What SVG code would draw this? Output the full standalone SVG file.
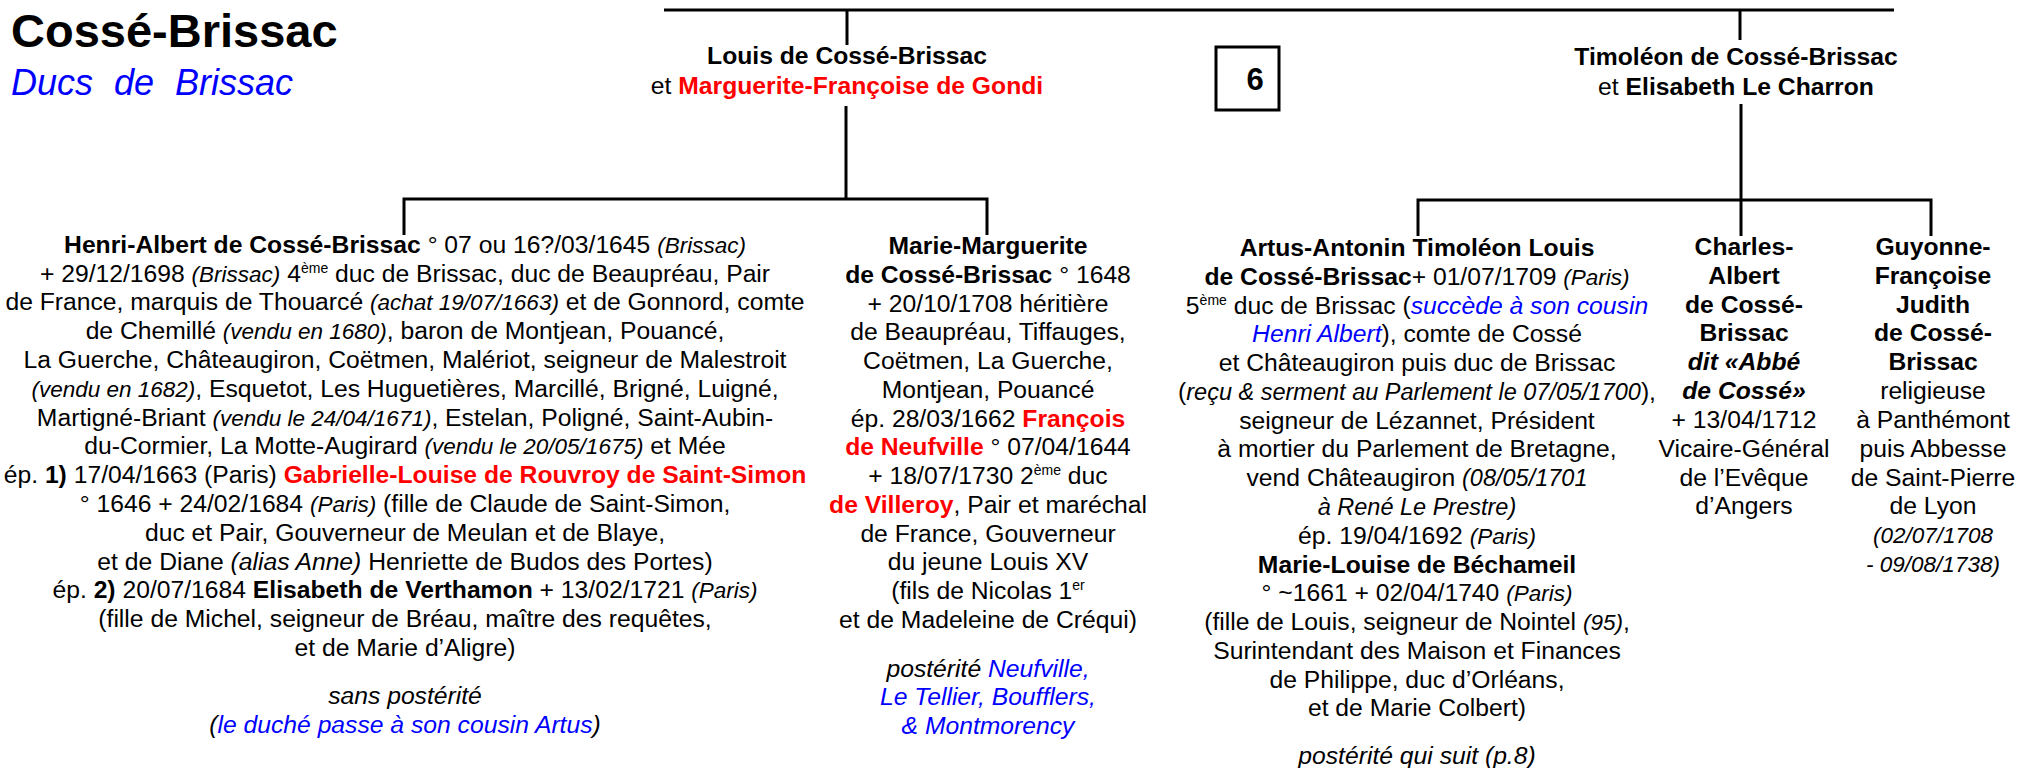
<svg xmlns="http://www.w3.org/2000/svg" width="2018" height="768" viewBox="0 0 2018 768">
<style>
.t{font-family:"Liberation Sans",Arial,sans-serif;font-size:24.7px;fill:#000;text-anchor:middle}
.b{font-weight:bold}
.i{font-style:italic}
.s{font-size:22.5px}
.m{font-size:23.5px}
.r{fill:#ff0000}
.u{fill:#0000ff}
.ln{stroke:#000;stroke-width:3;fill:none}
</style>
<rect width="2018" height="768" fill="#fff"/>
<g id="title">
<text x="11" y="47" style="font-family:'Liberation Sans',Arial,sans-serif;font-size:47px;font-weight:bold">Cossé-Brissac</text>
<text x="11" y="95" style="font-family:'Liberation Sans',Arial,sans-serif;font-size:36px;font-style:italic;fill:#0000ff;word-spacing:11px">Ducs de Brissac</text>
</g>
<g id="connectors" class="ln">
<path d="M664 10H1894"/>
<path d="M847 10V45"/>
<path d="M846 106V199"/>
<path d="M404 235V199H987V235"/>
<path d="M1740 10V40"/>
<path d="M1741 104V236"/>
<path d="M1418 236V200H1931V236"/>
</g>
<g id="box6">
<rect x="1216" y="47" width="63" height="63" fill="#fff" stroke="#000" stroke-width="3"/>
<text x="1255" y="90" style="font-family:'Liberation Sans',Arial,sans-serif;font-size:31px;font-weight:bold;text-anchor:middle">6</text>
</g>
<g id="louis">
<text class="t b" x="847" y="64">Louis de Cossé-Brissac</text>
<text class="t" x="847" y="94">et <tspan class="b r">Marguerite-Françoise de Gondi</tspan></text>
</g>
<g id="timoleon">
<text class="t b" x="1736" y="65">Timoléon de Cossé-Brissac</text>
<text class="t" x="1736" y="95">et <tspan class="b">Elisabeth Le Charron</tspan></text>
</g>
<g id="henri">
<text class="t" x="405" y="253"><tspan class="b">Henri-Albert de Cossé-Brissac</tspan> ° 07 ou 16?/03/1645 <tspan class="i s">(Brissac)</tspan></text>
<text class="t" x="405" y="282">+ 29/12/1698 <tspan class="i s">(Brissac)</tspan> 4<tspan font-size="14" dy="-9">ème</tspan><tspan dy="9"> duc de Brissac, duc de Beaupréau, Pair</tspan></text>
<text class="t" x="405" y="310">de France, marquis de Thouarcé <tspan class="i s">(achat 19/07/1663)</tspan> et de Gonnord, comte</text>
<text class="t" x="405" y="339">de Chemillé <tspan class="i s">(vendu en 1680)</tspan>, baron de Montjean, Pouancé,</text>
<text class="t" x="405" y="368">La Guerche, Châteaugiron, Coëtmen, Malériot, seigneur de Malestroit</text>
<text class="t" x="405" y="397"><tspan class="i s">(vendu en 1682)</tspan>, Esquetot, Les Huguetières, Marcillé, Brigné, Luigné,</text>
<text class="t" x="405" y="426">Martigné-Briant <tspan class="i s">(vendu le 24/04/1671)</tspan>, Estelan, Poligné, Saint-Aubin-</text>
<text class="t" x="405" y="454">du-Cormier, La Motte-Augirard <tspan class="i s">(vendu le 20/05/1675)</tspan> et Mée</text>
<text class="t" x="405" y="483">ép. <tspan class="b">1)</tspan> 17/04/1663 (Paris) <tspan class="b r">Gabrielle-Louise de Rouvroy de Saint-Simon</tspan></text>
<text class="t" x="405" y="512">° 1646 + 24/02/1684 <tspan class="i s">(Paris)</tspan> (fille de Claude de Saint-Simon,</text>
<text class="t" x="405" y="541">duc et Pair, Gouverneur de Meulan et de Blaye,</text>
<text class="t" x="405" y="570">et de Diane <tspan class="i">(alias Anne)</tspan> Henriette de Budos des Portes)</text>
<text class="t" x="405" y="598">ép. <tspan class="b">2)</tspan> 20/07/1684 <tspan class="b">Elisabeth de Verthamon</tspan> + 13/02/1721 <tspan class="i s">(Paris)</tspan></text>
<text class="t" x="405" y="627">(fille de Michel, seigneur de Bréau, maître des requêtes,</text>
<text class="t" x="405" y="656">et de Marie d’Aligre)</text>
<text class="t i" x="405" y="704">sans postérité</text>
<text class="t i" x="405" y="733">(<tspan class="u">le duché passe à son cousin Artus</tspan>)</text>
</g>
<g id="marie-marguerite">
<text class="t b" x="988" y="254">Marie-Marguerite</text>
<text class="t" x="988" y="283"><tspan class="b">de Cossé-Brissac</tspan> ° 1648</text>
<text class="t" x="988" y="312">+ 20/10/1708 héritière</text>
<text class="t" x="988" y="340">de Beaupréau, Tiffauges,</text>
<text class="t" x="988" y="369">Coëtmen, La Guerche,</text>
<text class="t" x="988" y="398">Montjean, Pouancé</text>
<text class="t" x="988" y="427">ép. 28/03/1662 <tspan class="b r">François</tspan></text>
<text class="t" x="988" y="455"><tspan class="b r">de Neufville</tspan> ° 07/04/1644</text>
<text class="t" x="988" y="484">+ 18/07/1730 2<tspan font-size="14" dy="-9">ème</tspan><tspan dy="9"> duc</tspan></text>
<text class="t" x="988" y="513"><tspan class="b r">de Villeroy</tspan>, Pair et maréchal</text>
<text class="t" x="988" y="542">de France, Gouverneur</text>
<text class="t" x="988" y="570">du jeune Louis XV</text>
<text class="t" x="988" y="599">(fils de Nicolas 1<tspan font-size="14" dy="-9">er</tspan></text>
<text class="t" x="988" y="628">et de Madeleine de Créqui)</text>
<text class="t i" x="988" y="677">postérité <tspan class="u">Neufville,</tspan></text>
<text class="t i u" x="988" y="705">Le Tellier, Boufflers,</text>
<text class="t i u" x="988" y="734">&amp; Montmorency</text>
</g>
<g id="artus">
<text class="t b" x="1417" y="256">Artus-Antonin Timoléon Louis</text>
<text class="t" x="1417" y="285"><tspan class="b">de Cossé-Brissac</tspan>+ 01/07/1709 <tspan class="i s">(Paris)</tspan></text>
<text class="t" x="1417" y="314">5<tspan font-size="14" dy="-9">ème</tspan><tspan dy="9"> duc de Brissac (</tspan><tspan class="i u">succède à son cousin</tspan></text>
<text class="t" x="1417" y="342"><tspan class="i u">Henri Albert</tspan>), comte de Cossé</text>
<text class="t" x="1417" y="371">et Châteaugiron puis duc de Brissac</text>
<text class="t" x="1417" y="400">(<tspan class="i m">reçu &amp; serment au Parlement le 07/05/1700</tspan>),</text>
<text class="t" x="1417" y="429">seigneur de Lézannet, Président</text>
<text class="t" x="1417" y="457">à mortier du Parlement de Bretagne,</text>
<text class="t" x="1417" y="486">vend Châteaugiron <tspan class="i m">(08/05/1701</tspan></text>
<text class="t i m" x="1417" y="515">à René Le Prestre)</text>
<text class="t" x="1417" y="544">ép. 19/04/1692 <tspan class="i s">(Paris)</tspan></text>
<text class="t b" x="1417" y="573">Marie-Louise de Béchameil</text>
<text class="t" x="1417" y="601">° ~1661 + 02/04/1740 <tspan class="i s">(Paris)</tspan></text>
<text class="t" x="1417" y="630">(fille de Louis, seigneur de Nointel <tspan class="i s">(95)</tspan>,</text>
<text class="t" x="1417" y="659">Surintendant des Maison et Finances</text>
<text class="t" x="1417" y="688">de Philippe, duc d’Orléans,</text>
<text class="t" x="1417" y="716">et de Marie Colbert)</text>
<text class="t i" x="1417" y="764">postérité qui suit (p.8)</text>
</g>
<g id="charles-albert">
<text class="t b" x="1744" y="255">Charles-</text>
<text class="t b" x="1744" y="284">Albert</text>
<text class="t b" x="1744" y="313">de Cossé-</text>
<text class="t b" x="1744" y="341">Brissac</text>
<text class="t b i" x="1744" y="370">dit «Abbé</text>
<text class="t b i" x="1744" y="399">de Cossé»</text>
<text class="t" x="1744" y="428">+ 13/04/1712</text>
<text class="t" x="1744" y="457">Vicaire-Général</text>
<text class="t" x="1744" y="486">de l’Evêque</text>
<text class="t" x="1744" y="514">d’Angers</text>
</g>
<g id="guyonne">
<text class="t b" x="1933" y="255">Guyonne-</text>
<text class="t b" x="1933" y="284">Françoise</text>
<text class="t b" x="1933" y="313">Judith</text>
<text class="t b" x="1933" y="341">de Cossé-</text>
<text class="t b" x="1933" y="370">Brissac</text>
<text class="t" x="1933" y="399">religieuse</text>
<text class="t" x="1933" y="428">à Panthémont</text>
<text class="t" x="1933" y="457">puis Abbesse</text>
<text class="t" x="1933" y="486">de Saint-Pierre</text>
<text class="t" x="1933" y="514">de Lyon</text>
<text class="t i s" x="1933" y="543">(02/07/1708</text>
<text class="t i s" x="1933" y="572">- 09/08/1738)</text>
</g>
</svg>
